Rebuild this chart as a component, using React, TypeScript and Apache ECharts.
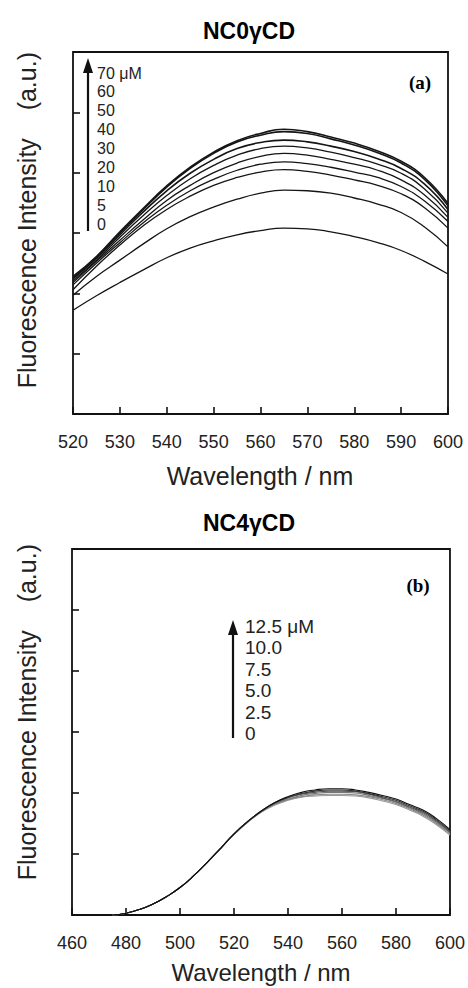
import React, { useEffect, useRef } from "react";
import * as echarts from "echarts";

// ---------- Panel (a): NC0γCD ----------
const WL_A = [520, 525, 530, 535, 540, 545, 550, 555, 560, 565, 570, 575, 580, 585, 590, 595, 600];
const A_0 = [1.72, 1.96, 2.18, 2.39, 2.59, 2.75, 2.87, 2.97, 3.04, 3.08, 3.07, 3.02, 2.94, 2.84, 2.71, 2.53, 2.32];
const A_5 = [1.97, 2.28, 2.55, 2.82, 3.07, 3.27, 3.43, 3.56, 3.66, 3.71, 3.70, 3.66, 3.58, 3.48, 3.34, 3.10, 2.77];
const A_10 = [2.06, 2.45, 2.80, 3.12, 3.39, 3.61, 3.79, 3.92, 4.01, 4.05, 4.02, 3.96, 3.88, 3.79, 3.65, 3.42, 3.08];
const A_20 = [2.14, 2.50, 2.84, 3.17, 3.46, 3.70, 3.89, 4.04, 4.14, 4.18, 4.15, 4.09, 4.01, 3.92, 3.77, 3.53, 3.19];
const A_30 = [2.18, 2.53, 2.88, 3.22, 3.54, 3.79, 4.00, 4.16, 4.27, 4.32, 4.29, 4.22, 4.14, 4.04, 3.88, 3.63, 3.26];
const A_40 = [2.21, 2.55, 2.93, 3.29, 3.62, 3.90, 4.12, 4.29, 4.40, 4.44, 4.41, 4.34, 4.25, 4.14, 3.99, 3.73, 3.33];
const A_50 = [2.24, 2.58, 2.97, 3.35, 3.70, 3.99, 4.22, 4.40, 4.50, 4.54, 4.51, 4.44, 4.35, 4.23, 4.07, 3.81, 3.39];
const A_60 = [2.26, 2.60, 3.00, 3.39, 3.76, 4.07, 4.32, 4.51, 4.62, 4.68, 4.65, 4.56, 4.46, 4.33, 4.16, 3.89, 3.45];
const A_70 = [2.28, 2.61, 3.02, 3.41, 3.78, 4.09, 4.34, 4.53, 4.65, 4.72, 4.68, 4.59, 4.49, 4.36, 4.19, 3.92, 3.49];
const A_SERIES = [A_0, A_5, A_10, A_20, A_30, A_40, A_50, A_60, A_70];
const A_LABELS = ["70 μM", "60", "50", "40", "30", "20", "10", "5", "0"];

// ---------- Panel (b): NC4γCD ----------
const WL_B = [475, 480, 485, 490, 495, 500, 505, 510, 515, 520, 525, 530, 535, 540, 545, 550, 555, 560, 565, 570, 575, 580, 585, 590, 595, 600];
const B_0 = [0.00, 0.03, 0.09, 0.18, 0.30, 0.45, 0.64, 0.86, 1.09, 1.32, 1.52, 1.68, 1.80, 1.88, 1.93, 1.95, 1.96, 1.96, 1.95, 1.92, 1.87, 1.81, 1.72, 1.62, 1.48, 1.31];
const B_25 = [0.00, 0.03, 0.09, 0.18, 0.30, 0.45, 0.64, 0.86, 1.09, 1.32, 1.52, 1.69, 1.81, 1.89, 1.94, 1.97, 1.98, 1.98, 1.97, 1.94, 1.89, 1.83, 1.74, 1.64, 1.50, 1.33];
const B_50 = [0.00, 0.03, 0.09, 0.18, 0.30, 0.45, 0.64, 0.86, 1.09, 1.32, 1.52, 1.69, 1.82, 1.90, 1.96, 1.99, 2.01, 2.01, 2.00, 1.96, 1.91, 1.85, 1.76, 1.66, 1.52, 1.35];
const B_75 = [0.00, 0.03, 0.09, 0.18, 0.30, 0.45, 0.64, 0.86, 1.09, 1.33, 1.53, 1.70, 1.83, 1.92, 1.98, 2.01, 2.03, 2.03, 2.02, 1.98, 1.92, 1.86, 1.77, 1.68, 1.54, 1.36];
const B_100 = [0.00, 0.03, 0.09, 0.18, 0.30, 0.45, 0.64, 0.86, 1.09, 1.33, 1.53, 1.70, 1.84, 1.93, 1.99, 2.03, 2.05, 2.05, 2.03, 1.99, 1.94, 1.88, 1.79, 1.70, 1.56, 1.38];
const B_125 = [0.00, 0.03, 0.09, 0.18, 0.30, 0.45, 0.64, 0.86, 1.09, 1.33, 1.53, 1.70, 1.84, 1.94, 2.01, 2.05, 2.07, 2.07, 2.05, 2.01, 1.96, 1.90, 1.81, 1.72, 1.58, 1.40];
const B_SERIES = [B_0, B_25, B_50, B_75, B_100, B_125];
const B_COLORS = ["#9a9a9a", "#888888", "#777777", "#555555", "#333333", "#111111"];
const B_LABELS = ["12.5 μM", "10.0", "7.5", "5.0", "2.5", "0"];

const SANS = "'Liberation Sans', Arial, Helvetica, sans-serif";
const SERIF = "'Liberation Serif', 'Times New Roman', serif";

function txt(x: number, y: number, text: string, opts: any = {}) {
  const align = opts.align || "center";
  const valign = opts.valign || "middle";
  return {
    type: "text",
    x,
    y,
    rotation: opts.rotation || 0,
    silent: true,
    style: {
      text,
      fill: opts.color || "#111",
      fontSize: opts.fontSize || 16,
      fontWeight: opts.fontWeight || "normal",
      fontFamily: opts.fontFamily || SANS,
      align,
      verticalAlign: valign,
      textAlign: align,
      textVerticalAlign: valign,
    },
  };
}

function arrow(x: number, yTip: number, yBottom: number) {
  return [
    {
      type: "line",
      silent: true,
      shape: { x1: x, y1: yBottom, x2: x, y2: yTip + 10 },
      style: { stroke: "#111", lineWidth: 2.2 },
    },
    {
      type: "polygon",
      silent: true,
      shape: { points: [[x, yTip], [x - 5, yTip + 15], [x + 5, yTip + 15]] },
      style: { fill: "#111" },
    },
  ];
}

export default function App() {
  const ref = useRef<HTMLDivElement>(null);
  useEffect(() => {
    if (!ref.current) return;
    const chart = echarts.init(ref.current, null, { renderer: "svg" });

    const tickStyle = { color: "#111", width: 1.6 };
    const mkX = (gridIndex: number, min: number, max: number, interval: number) => ({
      type: "value",
      gridIndex,
      min,
      max,
      interval,
      axisLine: { show: false },
      axisTick: { show: true, inside: true, length: 7, lineStyle: tickStyle },
      splitLine: { show: false },
      axisLabel: {
        show: true,
        margin: 19,
        fontSize: 18,
        color: "#222",
        fontFamily: SANS,
        showMinLabel: true,
        showMaxLabel: true,
      },
    });
    const mkY = (gridIndex: number) => ({
      type: "value",
      gridIndex,
      min: 0,
      max: 6,
      interval: 1,
      axisLine: { show: false },
      axisTick: { show: true, inside: true, length: 7, lineStyle: tickStyle },
      splitLine: { show: false },
      axisLabel: { show: false },
    });

    const seriesA = A_SERIES.map((vals, i) => ({
      type: "line",
      xAxisIndex: 0,
      yAxisIndex: 0,
      showSymbol: false,
      smooth: 0.5,
      silent: true,
      lineStyle: { color: "#151515", width: i >= 6 ? 1.6 : 1.3 },
      data: WL_A.map((w, j) => [w, vals[j]]),
    }));
    const seriesB = B_SERIES.map((vals, i) => ({
      type: "line",
      xAxisIndex: 1,
      yAxisIndex: 1,
      showSymbol: false,
      smooth: 0.5,
      silent: true,
      lineStyle: { color: B_COLORS[i], width: 1.1 },
      data: WL_B.map((w, j) => [w, vals[j]]),
    }));

    const graphics: any[] = [];
    // titles
    graphics.push(txt(249, 31, "NC0γCD", { fontSize: 23, fontWeight: "bold", color: "#000" }));
    graphics.push(txt(249, 523, "NC4γCD", { fontSize: 23, fontWeight: "bold", color: "#000" }));
    // panel labels
    graphics.push(txt(420, 82, "(a)", { fontSize: 19, fontWeight: "bold", fontFamily: SERIF, color: "#000" }));
    graphics.push(txt(418, 585, "(b)", { fontSize: 19, fontWeight: "bold", fontFamily: SERIF, color: "#000" }));
    // y-axis titles
    const yTitle = "Fluorescence Intensity    (a.u.)";
    graphics.push(txt(27, 52, yTitle, { fontSize: 25, color: "#222", rotation: Math.PI / 2, align: "right" }));
    graphics.push(txt(27, 544, yTitle, { fontSize: 25, color: "#222", rotation: Math.PI / 2, align: "right" }));
    // x-axis titles
    graphics.push(txt(260, 476, "Wavelength / nm", { fontSize: 25, color: "#222" }));
    graphics.push(txt(261, 972, "Wavelength / nm", { fontSize: 24, color: "#222" }));
    // legends
    graphics.push(...arrow(88, 58, 231));
    A_LABELS.forEach((l, i) => {
      graphics.push(txt(97, 73 + i * 18.9, l, { fontSize: 16, align: "left", color: "#222" }));
    });
    graphics.push(...arrow(233, 620, 738));
    B_LABELS.forEach((l, i) => {
      graphics.push(txt(245, 626 + i * 21.5, l, { fontSize: 19, align: "left", color: "#222" }));
    });

    chart.setOption({
      animation: false,
      backgroundColor: "#fff",
      grid: [
        { left: 73, top: 52, width: 375, height: 362, show: true, borderColor: "#111", borderWidth: 1.8, containLabel: false },
        { left: 72, top: 549, width: 380, height: 366, show: true, borderColor: "#111", borderWidth: 1.8, containLabel: false },
      ],
      xAxis: [mkX(0, 520, 600, 10), mkX(1, 460, 600, 20)],
      yAxis: [mkY(0), mkY(1)],
      series: [...seriesA, ...seriesB],
      graphic: graphics,
    });
    return () => chart.dispose();
  }, []);
  return <div ref={ref} style={{ position: "fixed", left: 0, top: 0, width: 468, height: 988 }} />;
}
